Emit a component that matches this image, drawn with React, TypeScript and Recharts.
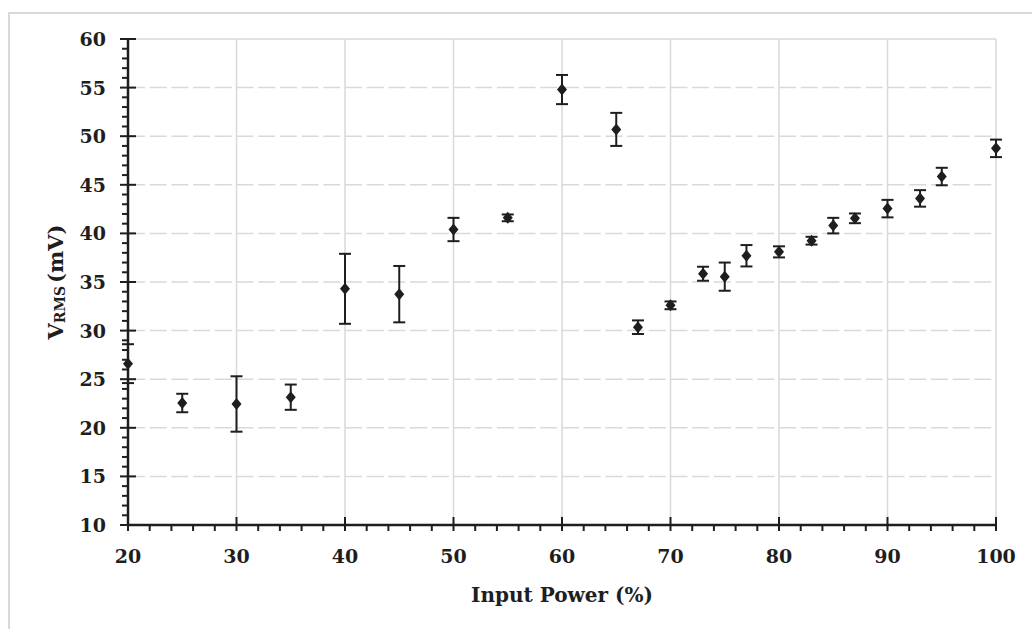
import {
  ErrorBar,
  ReferenceLine,
  Scatter,
  ScatterChart,
  XAxis,
  YAxis,
} from 'recharts';

// input power (%) and measured V_RMS (mV) with its error
const powers = [20, 25, 30, 35, 40, 45, 50, 55, 60, 65, 67, 70, 73, 75, 77, 80, 83, 85, 87, 90, 93, 95, 100];
const vrms = [26.6, 22.55, 22.45, 23.15, 34.3, 33.75, 40.4, 41.6, 54.8, 50.7, 30.35, 32.6, 35.85, 35.55, 37.7, 38.1, 39.25, 40.8, 41.55, 42.55, 43.6, 45.85, 48.75];
const errs = [2.0, 0.95, 2.85, 1.3, 3.6, 2.9, 1.2, 0.35, 1.5, 1.7, 0.7, 0.4, 0.72, 1.45, 1.1, 0.57, 0.4, 0.8, 0.5, 0.9, 0.85, 0.9, 0.9];

const xMajor = [20, 30, 40, 50, 60, 70, 80, 90, 100];
const yMajor = [10, 15, 20, 25, 30, 35, 40, 45, 50, 55, 60];
// minor ticks: every 2 % on x, every 1 mV on y
const xTicks = Array.from({ length: 41 }, (_, i) => 20 + i * 2);
const yTicks = Array.from({ length: 51 }, (_, i) => 10 + i);

const data = powers.map((p, i) => ({ power: p, vrms: vrms[i], err: errs[i] }));

const INK = '#1e1e1e';
const GRID = '#d9d9d9';
const FONT = '"DejaVu Serif", serif';

function XTick(props: any) {
  const { x, y, payload } = props;
  const major = xMajor.includes(payload.value);
  return (
    <g>
      <path d={`M${x},${major ? y - 8 : y}V${y + 6}`} stroke={INK} strokeWidth={2} fill="none" />
      {major && (
        <text x={x} y={y + 38} textAnchor="middle" fontFamily={FONT} fontWeight="bold" fontSize={19} fill={INK}>
          {payload.value}
        </text>
      )}
    </g>
  );
}

function YTick(props: any) {
  const { x, y, payload } = props;
  const major = yMajor.includes(payload.value);
  return (
    <g>
      <path d={`M${x - (major ? 8 : 6)},${y}H${major ? x + 8 : x}`} stroke={INK} strokeWidth={2} fill="none" />
      {major && (
        <text x={x - 22} y={y + 7} textAnchor="end" fontFamily={FONT} fontWeight="bold" fontSize={19} fill={INK}>
          {payload.value}
        </text>
      )}
    </g>
  );
}

function Diamond(props: any) {
  const { cx, cy } = props;
  return <path d={`M${cx},${cy - 6}L${cx + 5},${cy}L${cx},${cy + 6}L${cx - 5},${cy}Z`} fill={INK} />;
}

function XLabel(props: any) {
  const { x, y, width } = props.viewBox;
  return (
    <text x={x + width / 2} y={y + 77} textAnchor="middle" fontFamily={FONT} fontWeight="bold" fontSize={20} fill={INK}>
      Input Power (%)
    </text>
  );
}

function YLabel(props: any) {
  const { y, height } = props.viewBox;
  const cx = 55;
  const cy = y + height / 2;
  return (
    <text
      x={cx}
      y={cy}
      transform={`rotate(-90 ${cx} ${cy})`}
      textAnchor="middle"
      dominantBaseline="central"
      fontFamily={FONT}
      fontWeight="bold"
      fontSize={21}
      fill={INK}
    >
      V
      <tspan fontSize={14} dy={5}>RMS</tspan>
      <tspan dy={-5} dx={3}>(mV)</tspan>
    </text>
  );
}

export default function App() {
  return (
    <div style={{ position: 'relative', width: 1032, height: 629 }}>
      <style>{'body{margin:0}'}</style>
      <div
        style={{
          position: 'absolute',
          left: 8,
          top: 12,
          width: 1022,
          height: 615,
          borderTop: `2px solid ${GRID}`,
          borderLeft: `2px solid ${GRID}`,
        }}
      />
      <div style={{ position: 'absolute', left: 0, top: 0 }}>
        <ScatterChart width={1032} height={629} margin={{ top: 39, right: 36, bottom: 0, left: 0 }}>
          <XAxis
            type="number"
            dataKey="power"
            domain={[20, 100]}
            ticks={xTicks}
            interval={0}
            tick={<XTick />}
            tickLine={false}
            tickSize={0}
            tickMargin={0}
            height={104}
            axisLine={{ stroke: INK, strokeWidth: 2.5 }}
            label={<XLabel />}
          />
          <YAxis
            type="number"
            dataKey="vrms"
            domain={[10, 60]}
            ticks={yTicks}
            interval={0}
            tick={<YTick />}
            tickLine={false}
            tickSize={0}
            tickMargin={0}
            width={128}
            axisLine={{ stroke: INK, strokeWidth: 2.5 }}
            label={<YLabel />}
          />
          {xMajor.slice(1).map((v) => (
            <ReferenceLine key={`vx${v}`} x={v} stroke={GRID} strokeWidth={1.5} />
          ))}
          {yMajor.slice(1).map((v) => (
            <ReferenceLine
              key={`hy${v}`}
              y={v}
              stroke={GRID}
              strokeWidth={1.5}
              strokeDasharray={v === 60 ? undefined : '17 4.7'}
            />
          ))}
          <Scatter data={data} dataKey="vrms" shape={<Diamond />} isAnimationActive={false}>
            <ErrorBar dataKey="err" direction="y" width={6} stroke={INK} strokeWidth={2} isAnimationActive={false} />
          </Scatter>
        </ScatterChart>
      </div>
    </div>
  );
}
